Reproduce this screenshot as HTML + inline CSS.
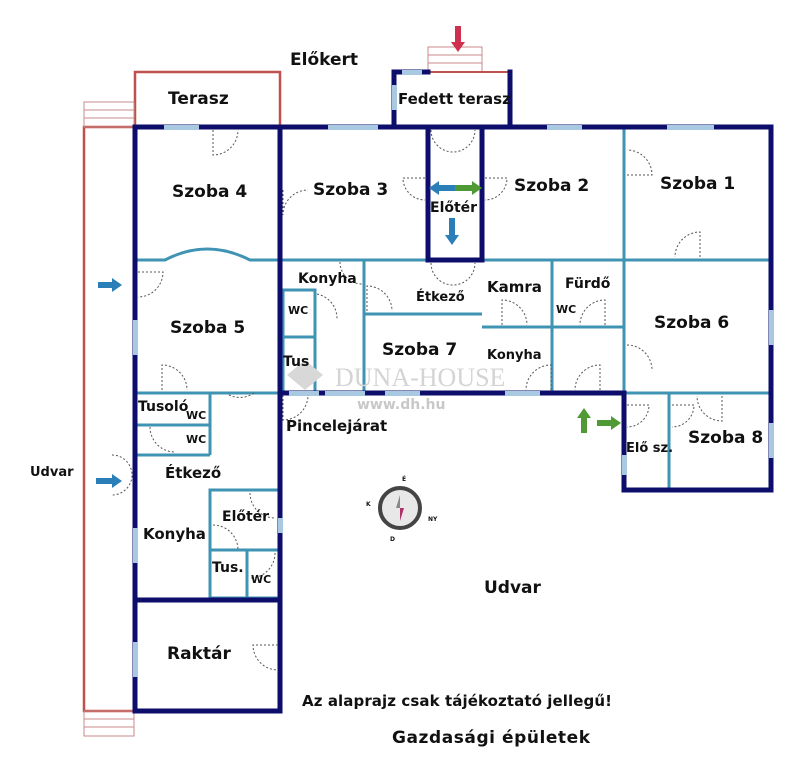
<!DOCTYPE html>
<html><head><meta charset="utf-8"><style>
html,body{margin:0;padding:0;background:#fff;}
svg{display:block;}
text{font-family:"DejaVu Sans","Liberation Sans",sans-serif;font-weight:bold;fill:#111;}
</style></head><body>
<svg width="797" height="768" viewBox="0 0 797 768" xmlns="http://www.w3.org/2000/svg">
<g fill="none" stroke="#c0504d" stroke-width="2.5">
<rect x="135" y="72" width="145" height="55"/>
<rect x="84" y="127" width="51" height="584"/>
</g>
<g fill="none" stroke="#c98a88" stroke-width="1">
<rect x="84" y="102" width="50" height="25"/><line x1="84" y1="110" x2="134" y2="110"/><line x1="84" y1="118" x2="134" y2="118"/>
<rect x="84" y="711" width="50" height="25"/><line x1="84" y1="719" x2="134" y2="719"/><line x1="84" y1="727" x2="134" y2="727"/>
<rect x="428" y="47" width="54" height="25"/><line x1="428" y1="55" x2="482" y2="55"/><line x1="428" y1="63" x2="482" y2="63"/>
</g>
<line x1="428" y1="72" x2="510" y2="72" stroke="#c0504d" stroke-width="2"/>
<g stroke="#3f93b3" stroke-width="3" fill="none">
<path d="M135 260 L165 260 Q207 238 250 260 L771 260"/>
<line x1="624" y1="127" x2="624" y2="393"/>
<line x1="364" y1="260" x2="364" y2="393"/>
<line x1="364" y1="314" x2="482" y2="314"/>
<line x1="552" y1="260" x2="552" y2="393"/>
<line x1="482" y1="327" x2="624" y2="327"/>
<rect x="283" y="290" width="32" height="47"/>
<rect x="283" y="337" width="32" height="56"/>
<line x1="135" y1="393" x2="280" y2="393"/>
<line x1="135" y1="425" x2="210" y2="425"/>
<line x1="135" y1="455" x2="210" y2="455"/>
<line x1="210" y1="393" x2="210" y2="455"/>
<rect x="210" y="490" width="70" height="60"/>
<rect x="210" y="550" width="37" height="48"/>
<rect x="247" y="550" width="33" height="48"/>
<line x1="669" y1="393" x2="669" y2="490"/>
<line x1="624" y1="393" x2="771" y2="393"/>
</g>
<g stroke="#0d0d6b" stroke-width="5" fill="none" stroke-linecap="square">
<line x1="135" y1="127" x2="771" y2="127"/>
<line x1="771" y1="127" x2="771" y2="490"/>
<polyline points="624,393 624,490 771,490"/>
<line x1="280" y1="393" x2="624" y2="393"/>
<line x1="135" y1="127" x2="135" y2="711"/>
<line x1="135" y1="711" x2="280" y2="711"/>
<line x1="280" y1="127" x2="280" y2="711"/>
<line x1="135" y1="600" x2="280" y2="600"/>
<line x1="428" y1="127" x2="428" y2="260"/>
<line x1="482" y1="127" x2="482" y2="260"/>
<line x1="428" y1="260" x2="482" y2="260"/>
<polyline points="394,127 394,72 428,72"/>
<line x1="510" y1="72" x2="510" y2="127"/>
</g>
<g fill="#a9c9e3">
<rect x="164" y="125" width="35" height="5"/><rect x="328" y="125" width="50" height="5"/>
<rect x="547" y="125" width="35" height="5"/><rect x="667" y="125" width="47" height="5"/>
<rect x="402" y="70" width="20" height="5"/><rect x="392" y="85" width="5" height="25"/>
<rect x="769" y="310" width="5" height="35"/><rect x="769" y="423" width="5" height="35"/>
<rect x="622" y="455" width="5" height="20"/>
<rect x="289" y="391" width="30" height="5"/><rect x="325" y="391" width="40" height="5"/>
<rect x="385" y="391" width="35" height="5"/><rect x="505" y="391" width="35" height="5"/>
<rect x="133" y="320" width="5" height="35"/><rect x="133" y="528" width="5" height="35"/>
<rect x="133" y="642" width="5" height="35"/><rect x="278" y="518" width="5" height="15"/>
</g>
<g fill="none" stroke="#555" stroke-width="1" stroke-dasharray="2,2">
<path d="M213 130 v25 a25 25 0 0 0 25 -25"/>
<path d="M283 190 v25 a25 25 0 0 1 25 -25"/>
<path d="M425 178 h-22 a22 22 0 0 0 22 22"/>
<path d="M431 130 a22 22 0 0 0 22 22 a22 22 0 0 0 22 -22"/>
<path d="M485 178 h22 a22 22 0 0 1 -22 22"/>
<path d="M627 175 h25 a25 25 0 0 0 -25 -25"/>
<path d="M700 257 v-25 a25 25 0 0 0 -25 25"/>
<path d="M138 272 h25 a25 25 0 0 1 -25 25"/>
<path d="M340 262 a22 22 0 0 0 22 22"/>
<path d="M431 263 a22 22 0 0 0 22 22 a22 22 0 0 0 22 -22"/>
<path d="M367 311 v-25 a25 25 0 0 1 25 25"/>
<path d="M317 294 a25 25 0 0 1 20 25"/>
<path d="M502 325 v-25 a25 25 0 0 1 25 25"/>
<path d="M605 325 v-25 a25 25 0 0 0 -25 25"/>
<path d="M551 390 v-25 a25 25 0 0 0 -25 25"/>
<path d="M600 390 v-25 a25 25 0 0 0 -25 25"/>
<path d="M627 345 a25 25 0 0 1 25 25"/>
<path d="M162 390 v-25 a25 25 0 0 1 25 25"/>
<path d="M229 395 a25 25 0 0 0 25 -2"/>
<path d="M283 395 v25 a25 25 0 0 0 25 -25"/>
<path d="M627 405 h22 a22 22 0 0 1 -22 22"/>
<path d="M672 405 h22 a22 22 0 0 1 -22 22"/>
<path d="M722 396 v25 a25 25 0 0 1 -25 -25"/>
<path d="M150 427 a25 25 0 0 0 25 25"/>
<path d="M112 455 a20 20 0 0 1 20 20 a20 20 0 0 1 -20 20"/>
<path d="M250 493 a25 25 0 0 0 25 25"/>
<path d="M213 525 a25 25 0 0 1 25 25"/>
<path d="M275 553 a25 25 0 0 1 -25 25"/>
<path d="M278 645 h-25 a25 25 0 0 0 25 25"/>
</g>
<g>
<path d="M98 282 h14 v-4 l10 7 l-10 7 v-4 h-14z" fill="#2a7fb8"/>
<path d="M96 478 h16 v-4 l10 7 l-10 7 v-4 h-16z" fill="#2a7fb8"/>
<path d="M429 188 l10 -7 v4 h17 v6 h-17 v4z" fill="#2a7fb8"/>
<path d="M482 188 l-10 -7 v4 h-17 v6 h17 v4z" fill="#4f9a35"/>
<path d="M452 245 l-7 -10 h4 v-17 h6 v17 h4z" fill="#2a7fb8"/>
<path d="M455 26 v16 h-4 l7 10 l7 -10 h-4 v-16z" fill="#d0304f"/>
<path d="M584 408 l-7 10 h4 v15 h6 v-15 h4z" fill="#4f9a35"/>
<path d="M621 423 l-10 -7 v4 h-14 v6 h14 v4z" fill="#4f9a35"/>
</g>
<g>
<circle cx="400" cy="508" r="20" fill="#e8e8e8" stroke="#444" stroke-width="4"/>
<path d="M400 495 l-4 13 h4z" fill="#888"/>
<path d="M400 521 l4 -13 h-4z" fill="#b0306a"/>
<text x="402" y="481" font-size="6" fill="#555">É</text>
<text x="366" y="506" font-size="6" fill="#555">K</text>
<text x="428" y="521" font-size="6" fill="#555">NY</text>
<text x="390" y="541" font-size="6" fill="#555">D</text>
</g>
<text x="335" y="386" font-size="26" style="font-family:'Liberation Serif',serif;font-weight:normal;fill:#d4d4d4">DUNA-HOUSE</text>
<text x="357" y="409" font-size="14" style="fill:#c8c8c8">www.dh.hu</text>
<path d="M287 375 l18 -15 l18 15 l-18 15z" fill="#d8d8d8"/>
<g font-size="17">
<text x="290" y="65" font-size="17">Előkert</text>
<text x="168" y="104">Terasz</text>
<text x="398" y="104" font-size="15">Fedett terasz</text>
<text x="172" y="197">Szoba 4</text>
<text x="313" y="195">Szoba 3</text>
<text x="430" y="212" font-size="14">Előtér</text>
<text x="514" y="191">Szoba 2</text>
<text x="660" y="189">Szoba 1</text>
<text x="298" y="283" font-size="14">Konyha</text>
<text x="416" y="301" font-size="13">Étkező</text>
<text x="487" y="292" font-size="15">Kamra</text>
<text x="565" y="288" font-size="14">Fürdő</text>
<text x="556" y="313" font-size="11">WC</text>
<text x="288" y="314" font-size="11">WC</text>
<text x="283" y="366" font-size="14">Tus</text>
<text x="170" y="333">Szoba 5</text>
<text x="382" y="355">Szoba 7</text>
<text x="487" y="359" font-size="13">Konyha</text>
<text x="654" y="328">Szoba 6</text>
<text x="138" y="411" font-size="14">Tusoló</text>
<text x="186" y="419" font-size="11">WC</text>
<text x="186" y="443" font-size="11">WC</text>
<text x="286" y="431" font-size="15">Pincelejárat</text>
<text x="626" y="452" font-size="13">Elő sz.</text>
<text x="688" y="443">Szoba 8</text>
<text x="165" y="478" font-size="15">Étkező</text>
<text x="30" y="476" font-size="13">Udvar</text>
<text x="222" y="521" font-size="14">Előtér</text>
<text x="143" y="539" font-size="15">Konyha</text>
<text x="212" y="572" font-size="14">Tus.</text>
<text x="251" y="583" font-size="11">WC</text>
<text x="484" y="593" font-size="17">Udvar</text>
<text x="167" y="659">Raktár</text>
<text x="302" y="706" font-size="15" textLength="310">Az alaprajz csak tájékoztató jellegű!</text>
<text x="392" y="743" font-size="17" textLength="198">Gazdasági épületek</text>
</g>
</svg>
</body></html>
